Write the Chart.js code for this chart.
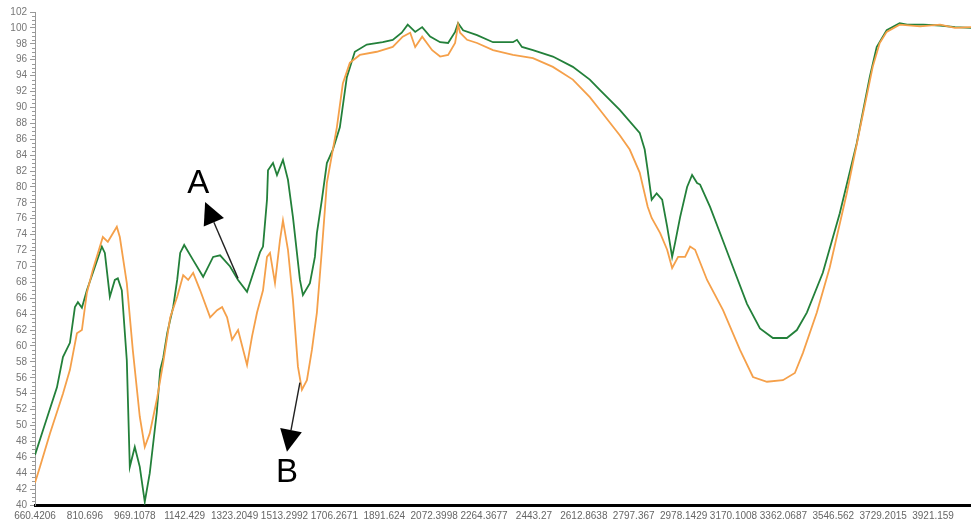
<!DOCTYPE html>
<html>
<head>
<meta charset="utf-8">
<script src="https://cdn.jsdelivr.net/npm/chart.js@4.4.1/dist/chart.umd.min.js"></script>
<style>
  html, body { margin: 0; padding: 0; background: #fff; }
  #wrap { width: 971px; height: 523px; }
</style>
</head>
<body>
<div id="wrap"><canvas id="ftir" width="971" height="523"></canvas></div>
<script>
// x tick labels (wavenumber, evenly spaced on the axis)
const xLabels = ["660.4206", "810.696", "969.1078", "1142.429", "1323.2049", "1513.2992",
  "1706.2671", "1891.624", "2072.3998", "2264.3677", "2443.27", "2612.8638", "2797.367",
  "2978.1429", "3170.1008", "3362.0687", "3546.562", "3729.2015", "3921.159"];

// positions are in label steps (0 = first label), values are transmittance
const greenPos = [0.00, 0.16, 0.44, 0.56, 0.70, 0.80, 0.86, 0.94, 1.04, 1.16, 1.34, 1.40, 1.50, 1.60,
  1.66, 1.74, 1.84, 1.90, 2.00, 2.10, 2.20, 2.30, 2.44, 2.51, 2.57, 2.65, 2.71, 2.77, 2.85, 2.91,
  2.99, 3.17, 3.37, 3.57, 3.71, 3.91, 4.07, 4.25, 4.35, 4.51, 4.57, 4.65, 4.67, 4.77, 4.85, 4.97,
  5.07, 5.17, 5.31, 5.37, 5.51, 5.61, 5.65, 5.75, 5.85, 5.97, 6.11, 6.25, 6.41, 6.65, 6.97, 7.17,
  7.35, 7.47, 7.62, 7.76, 7.92, 8.12, 8.28, 8.42, 8.48, 8.58, 8.86, 9.18, 9.58, 9.66, 9.76, 9.98,
  10.38, 10.78, 11.12, 11.32, 11.72, 12.12, 12.22, 12.28, 12.36, 12.46, 12.57, 12.67, 12.77, 12.83,
  12.93, 13.07, 13.17, 13.27, 13.33, 13.53, 13.73, 13.99, 14.27, 14.53, 14.79, 15.07, 15.27, 15.47,
  15.79, 16.13, 16.47, 16.73, 16.87, 17.07, 17.33, 17.48, 17.80, 18.14, 18.44, 18.76];
const greenVal = [46.3, 49.4, 54.8, 58.6, 60.4, 64.9, 65.5, 64.8, 67.0, 69.2, 72.5, 71.7, 66.2, 68.3,
  68.5, 67.0, 58.2, 44.8, 47.3, 44.8, 40.4, 44.0, 51.6, 57.0, 58.5, 61.6, 63.3, 64.9, 68.3, 71.7,
  72.7, 70.8, 68.7, 71.2, 71.4, 70.0, 68.3, 66.8, 68.7, 71.8, 72.5, 78.4, 82.1, 83.0, 81.5, 83.4,
  80.9, 76.2, 68.3, 66.4, 67.9, 71.2, 74.2, 78.4, 83.0, 84.7, 87.5, 93.8, 97.0, 97.9, 98.2, 98.5,
  99.4, 100.4, 99.5, 100.1, 98.9, 98.2, 98.1, 99.5, 100.6, 99.7, 99.1, 98.2, 98.2, 98.5, 97.6, 97.2,
  96.4, 95.1, 93.5, 92.2, 89.7, 86.8, 84.7, 82.1, 78.4, 79.2, 78.4, 75.0, 71.2, 73.0,
  76.2, 80.0, 81.5, 80.5, 80.3, 77.5, 74.2, 69.9, 65.3, 62.2, 61.0, 61.0, 62.0, 64.2,
  69.2, 76.7, 85.5, 93.8, 97.6, 99.7, 100.6, 100.4, 100.4, 100.3, 100.1, 100.0];

const orangePos = [0.00, 0.10, 0.30, 0.56, 0.70, 0.84, 0.94, 1.04, 1.16, 1.36, 1.46, 1.64, 1.70, 1.84,
  1.96, 2.10, 2.20, 2.30, 2.44, 2.57, 2.71, 2.85, 2.97, 3.07, 3.17, 3.31, 3.51, 3.65, 3.75, 3.85,
  3.95, 4.07, 4.25, 4.35, 4.45, 4.57, 4.65, 4.71, 4.81, 4.91, 4.97, 5.07, 5.17, 5.27, 5.35, 5.45,
  5.55, 5.65, 5.75, 5.85, 5.97, 6.05, 6.17, 6.31, 6.51, 6.85, 7.17, 7.37, 7.52, 7.62, 7.76, 7.96,
  8.12, 8.28, 8.42, 8.48, 8.52, 8.66, 8.86, 9.18, 9.58, 9.98, 10.38, 10.78, 11.12, 11.32, 11.72,
  11.92, 12.12, 12.28, 12.36, 12.53, 12.67, 12.77, 12.89, 13.03, 13.13, 13.23, 13.47, 13.79, 14.13,
  14.39, 14.67, 14.99, 15.23, 15.39, 15.67, 15.93, 16.27, 16.53, 16.79, 16.93, 17.07, 17.33, 17.74,
  18.14, 18.44, 18.76];
const orangeVal = [42.8, 44.8, 49.0, 54.0, 57.0, 61.6, 62.0, 66.7, 69.6, 73.7, 73.1, 75.0, 73.7, 67.9,
  59.5, 51.1, 47.3, 49.0, 53.2, 57.9, 63.6, 66.2, 68.9, 68.3, 69.2, 67.0, 63.6, 64.5, 64.9, 63.6,
  60.8, 62.0, 57.6, 61.2, 64.2, 67.0, 71.2, 71.7, 67.9, 73.3, 75.8, 72.1, 65.8, 57.4, 54.5, 55.7,
  59.5, 64.2, 72.1, 80.5, 84.7, 87.5, 93.0, 95.6, 96.6, 97.0, 97.6, 98.9, 99.4, 97.6, 98.9, 97.2,
  96.4, 96.6, 98.1, 100.4, 99.4, 98.5, 98.1, 97.2, 96.6, 96.2, 95.1, 93.5, 91.3, 89.7, 86.5,
  84.7, 81.8, 77.5, 76.1, 74.2, 72.1, 69.8, 71.2, 71.2, 72.5, 72.1, 68.3, 64.5, 59.5,
  56.1, 55.5, 55.7, 56.6, 59.1, 64.2, 69.9, 79.2, 87.2, 95.1, 98.1, 99.5, 100.4, 100.2,
  100.4, 100.0, 100.1];

function toPoints(pos, val) {
  return pos.map((p, i) => ({ x: p, y: val[i] }));
}

// arrows and letters, in axis units
const notes = [
  { text: "A", tx: 3.27, ty: 80.4, from: [4.07, 68.5], to: [3.41, 78.1] },
  { text: "B", tx: 5.05, ty: 44.0, from: [5.31, 55.4], to: [5.05, 46.7] }
];

const notesPlugin = {
  id: "notes",
  afterDraw(chart) {
    const c = chart.ctx, xs = chart.scales.x, ys = chart.scales.y;
    c.save();
    // minor ticks on the y axis
    c.strokeStyle = "#999";
    c.lineWidth = 1;
    for (let v = 40.5; v < 102; v += 0.5) {
      if (v % 2 === 0) continue;
      const py = Math.round(ys.getPixelForValue(v)) + 0.5;
      c.beginPath();
      c.moveTo(chart.chartArea.left - 3, py);
      c.lineTo(chart.chartArea.left, py);
      c.stroke();
    }
    c.fillStyle = "#000";
    c.strokeStyle = "#222";
    c.lineWidth = 1.4;
    c.font = "33px 'Liberation Sans', Arial, sans-serif";
    c.textAlign = "center";
    c.textBaseline = "middle";
    notes.forEach(n => {
      c.fillText(n.text, xs.getPixelForValue(n.tx), ys.getPixelForValue(n.ty));
      const x1 = xs.getPixelForValue(n.from[0]), y1 = ys.getPixelForValue(n.from[1]);
      const x2 = xs.getPixelForValue(n.to[0]), y2 = ys.getPixelForValue(n.to[1]);
      const ang = Math.atan2(y2 - y1, x2 - x1);
      const len = 22, half = 11;
      const bx = x2 - len * Math.cos(ang), by = y2 - len * Math.sin(ang);
      c.beginPath();
      c.moveTo(x1, y1);
      c.lineTo(bx, by);
      c.stroke();
      c.beginPath();
      c.moveTo(x2, y2);
      c.lineTo(bx + half * Math.sin(ang), by - half * Math.cos(ang));
      c.lineTo(bx - half * Math.sin(ang), by + half * Math.cos(ang));
      c.closePath();
      c.fill();
    });
    c.restore();
  }
};

new Chart(document.getElementById("ftir"), {
  type: "line",
  data: {
    datasets: [
      {
        label: "B",
        data: toPoints(orangePos, orangeVal),
        borderColor: "#f5a04a",
        borderWidth: 1.8,
        pointRadius: 0,
        tension: 0
      },
      {
        label: "A",
        data: toPoints(greenPos, greenVal),
        borderColor: "#23803a",
        borderWidth: 1.8,
        pointRadius: 0,
        tension: 0
      }
    ]
  },
  options: {
    responsive: false,
    animation: false,
    devicePixelRatio: 1,
    layout: { padding: { top: 12, right: 0, left: 0, bottom: 0 } },
    plugins: { legend: { display: false }, tooltip: { enabled: false } },
    scales: {
      x: {
        type: "linear",
        min: 0,
        max: 18.76,
        afterBuildTicks: s => { s.ticks = xLabels.map((_, i) => ({ value: i })); },
        afterFit: s => { s.height = 18; },
        ticks: {
          autoSkip: false,
          maxRotation: 0,
          padding: 5,
          color: "#666",
          font: { size: 10, family: "'Liberation Sans', Arial, sans-serif" },
          callback: v => xLabels[v]
        },
        grid: { display: true, drawOnChartArea: false, drawTicks: false },
        border: { color: "#000", width: 3 }
      },
      y: {
        min: 40,
        max: 102,
        afterFit: s => { s.width = 35; },
        ticks: {
          stepSize: 2,
          padding: 3,
          color: "#777",
          font: { size: 10, family: "'Liberation Sans', Arial, sans-serif" }
        },
        grid: { drawOnChartArea: false, tickLength: 5, color: "#999" },
        border: { color: "#999", width: 1 }
      }
    }
  },
  plugins: [notesPlugin]
});
</script>
</body>
</html>
